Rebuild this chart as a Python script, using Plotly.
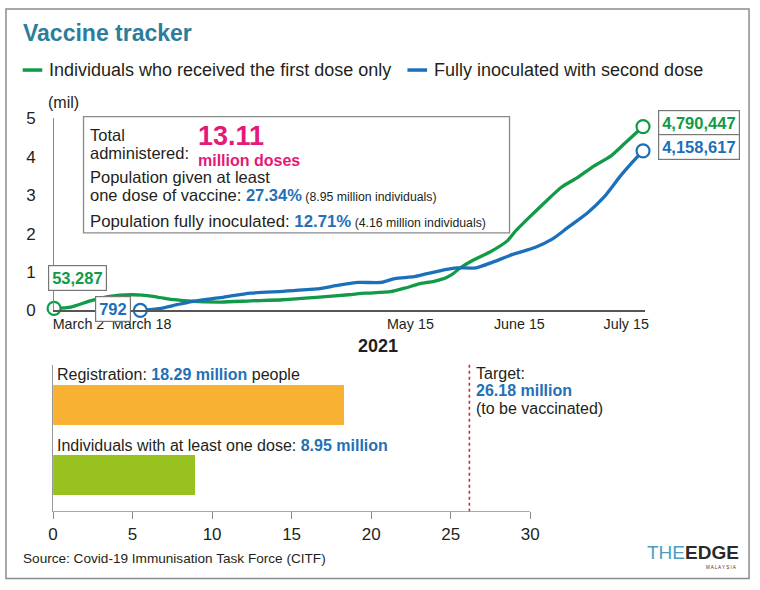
import plotly.graph_objects as go

W, H = 760, 590

# ---------------- data ----------------
# line chart: day index counted from March 2 (as placed on the chart), values in millions
green_days = [0, 4, 8.6, 12.8, 15.6, 18.7, 21, 24.5, 28.7, 32.7, 39.7, 46.7, 54.4, 62.3, 70, 74,
              80, 83.3, 87, 90.3, 93.3, 95, 96.4, 99.6, 103.4, 107.8, 109.7, 112.7, 116.7, 120.6,
              124.4, 128.3, 132.3, 136, 140]
green_vals = [0.053287, 0.09, 0.25, 0.36, 0.40, 0.41, 0.40, 0.35, 0.28, 0.24, 0.22, 0.25, 0.28, 0.34,
              0.41, 0.45, 0.49, 0.58, 0.70, 0.76, 0.86, 0.97, 1.10, 1.31, 1.51, 1.82, 2.07, 2.40,
              2.82, 3.21, 3.46, 3.76, 4.02, 4.39, 4.790447]

blue_days = [20.5, 25, 29.2, 32.7, 40.4, 46.7, 54.4, 62.3, 67.7, 72.3, 77.7, 81, 85.6, 88.7, 93.3,
             95.7, 100.3, 104.3, 109, 114.3, 118.3, 122, 126.7, 130.7, 134.6, 137.7, 140]
blue_vals = [0.000792, 0.05, 0.15, 0.23, 0.35, 0.45, 0.50, 0.56, 0.66, 0.73, 0.73, 0.83, 0.88, 0.96,
             1.07, 1.11, 1.11, 1.26, 1.46, 1.64, 1.85, 2.15, 2.53, 2.95, 3.50, 3.89, 4.158617]

green_name = "Individuals who received the first dose only"
blue_name = "Fully inoculated with second dose"

x_tick_pos = [5.8, 20.8, 84.7, 110.6, 136.0]
x_tick_text = ["March 2", "March 18", "May 15", "June 15", "July 15"]
y_tick_vals = [0, 1, 2, 3, 4, 5]

# bar chart (millions)
bar_names = ["Individuals with at least one dose", "Registration"]
bar_vals = [8.95, 18.29]
bar_colors = ["#98c21f", "#f8b133"]
target_val = 26.18
bar_ticks = [0, 5, 10, 15, 20, 25, 30]

total_doses = 13.11
pct_one_dose = 27.34
pct_full = 12.71
indiv_one_dose = 8.95
indiv_full = 4.16

GREEN = "#119a47"
BLUE = "#1c70ba"
NUMBLUE = "#2470b6"
PINK = "#e5197a"
FONT = "Liberation Sans, Arial, sans-serif"
TXT = "#231f20"


def px(x):
    return x / W


def py(y):
    return 1 - y / H


def label(text, x, y, size, color=TXT, xanchor="left", **kw):
    d = dict(text=text, x=px(x), y=py(y), xref="paper", yref="paper", xanchor=xanchor,
             yanchor="middle", showarrow=False, align="left",
             font=dict(family=FONT, size=size, color=color))
    d.update(kw)
    return d


def sp(text, size, color=None, bold=False):
    style = f"font-size:{size}px" + (f";color:{color}" if color else "")
    inner = f"<b>{text}</b>" if bold else text
    return f"<span style='{style}'>{inner}</span>"


fig = go.Figure()

fig.add_trace(go.Scatter(x=green_days, y=green_vals, mode="lines", name=green_name,
                         line=dict(color=GREEN, width=3.3, shape="spline", smoothing=0.6),
                         showlegend=False, cliponaxis=False, xaxis="x", yaxis="y"))
fig.add_trace(go.Scatter(x=blue_days, y=blue_vals, mode="lines", name=blue_name,
                         line=dict(color=BLUE, width=3.3, shape="spline", smoothing=0.6),
                         showlegend=False, cliponaxis=False, xaxis="x", yaxis="y"))
# open circle markers at start / end
fig.add_trace(go.Scatter(x=[green_days[0], green_days[-1]], y=[green_vals[0], green_vals[-1]],
                         mode="markers", showlegend=False, cliponaxis=False, hoverinfo="skip",
                         marker=dict(size=13, color="white", line=dict(color=GREEN, width=2.2))))
fig.add_trace(go.Scatter(x=[blue_days[0], blue_days[-1]], y=[blue_vals[0], blue_vals[-1]],
                         mode="markers", showlegend=False, cliponaxis=False, hoverinfo="skip",
                         marker=dict(size=13, color="white", line=dict(color=BLUE, width=2.2))))

# bars
fig.add_trace(go.Bar(x=bar_vals, y=[0, 1], orientation="h", marker=dict(color=bar_colors, line=dict(width=0)),
                     width=0.57, showlegend=False, xaxis="x2", yaxis="y2", hoverinfo="x"))

ann = []
shapes = []

# title
ann.append(label("<b>Vaccine tracker</b>", 16, 26, 23, "#2b7d9b"))

# manual legend
shapes.append(dict(type="line", xref="paper", yref="paper", x0=px(18), x1=px(38), y0=py(64), y1=py(64),
                   line=dict(color=GREEN, width=3.5)))
ann.append(label(green_name, 43, 64, 18))
shapes.append(dict(type="line", xref="paper", yref="paper", x0=px(410), x1=px(430), y0=py(64), y1=py(64),
                   line=dict(color=BLUE, width=3.5)))
ann.append(label(blue_name, 435, 64, 18))

# (mil) and 2021
ann.append(label("(mil)", 42, 97, 16))
ann.append(label("<b>2021</b>", 380, 349, 18, xanchor="center"))

# info box
shapes.append(dict(type="rect", xref="paper", yref="paper", x0=px(80), x1=px(514), y0=py(112), y1=py(232),
                   line=dict(color="#8a8a8a", width=1.3), fillcolor="rgba(255,255,255,0)"))
ann.append(label(sp("Total", 16.5) + "<br>" + sp("administered:", 16.5), 85, 140, 13.8))
ann.append(label(sp(f"{total_doses:.2f}", 27, bold=True) + "<br>" + sp("million doses", 16, bold=True),
                 195, 141, 15.8, PINK))
ann.append(label(sp("Population given at least", 16.5) + "<br>" +
                 sp("one dose of vaccine: ", 16.5) + sp(f"{pct_one_dose:.2f}%", 16.5, NUMBLUE, True) +
                 sp(f" ({indiv_one_dose:.2f} million individuals)", 12.3), 85, 184, 14.1))
ann.append(label(("Population fully inoculated: "
                  f"<span style='color:{NUMBLUE}'><b>{pct_full:.2f}%</b></span>"
                  f"<span style='font-size:12.3px'> ({indiv_full:.2f} million individuals)</span>"),
                 85, 220, 16.8))


# value labels on line ends
def boxed(text, x, y, color, xanchor, xshift, yshift):
    return dict(text=f"<b>{text}</b>", x=x, y=y, xref="x", yref="y", xanchor=xanchor, yanchor="middle",
                xshift=xshift, yshift=yshift, showarrow=False, bgcolor="white", bordercolor="#777",
                borderwidth=1.2, borderpad=3, font=dict(family=FONT, size=16.5, color=color))


ann.append(boxed(f"{round(green_vals[0]*1e6):,}", green_days[0], green_vals[0], GREEN, "left", -6, 30))
ann.append(boxed(f"{round(blue_vals[0]*1e6):,}", blue_days[0], blue_vals[0], BLUE, "right", -9, 1))
ann.append(boxed(f"{round(green_vals[-1]*1e6):,}", green_days[-1], green_vals[-1], GREEN, "left", 15, 4))
ann.append(boxed(f"{round(blue_vals[-1]*1e6):,}", blue_days[-1], blue_vals[-1], BLUE, "left", 15, 4))

# bar labels
ann.append(label(f"Registration: <span style='color:{NUMBLUE}'><b>{bar_vals[1]:.2f} million</b></span> people",
                 51, 378, 16))
ann.append(label(f"{bar_names[0]}: <span style='color:{NUMBLUE}'><b>{bar_vals[0]:.2f} million</b></span>",
                 51, 451, 16))
# target
shapes.append(dict(type="line", xref="x2", yref="paper", x0=target_val, x1=target_val, y0=py(368), y1=py(519),
                   line=dict(color="#d7262b", width=1.6, dash="dot")))
ann.append(label(sp("Target:", 16) + "<br>" + sp(f"{target_val:.2f} million", 16, NUMBLUE, True) + "<br>" +
                 sp("(to be vaccinated)", 16), 478, 395, 13.4))

# source
ann.append(label("Source: Covid-19 Immunisation Task Force (CITF)", 16, 568, 13.6))
# logo
ann.append(label("<span style='color:#4d9dbf'>THE</span><b>EDGE</b>", 750, 562, 19, "#2a2a2a", xanchor="right"))
ann.append(dict(text="M A L A Y S I A", x=px(747), y=py(572), xref="paper", yref="paper", xanchor="right",
                yanchor="top", showarrow=False, font=dict(family=FONT, size=4.5, color="#333")))

# outer frame
shapes.append(dict(type="rect", xref="paper", yref="paper", x0=px(1), x1=px(758), y0=py(588.5), y1=py(1),
                   line=dict(color="#8c8c8c", width=1.5), layer="above"))

px_per_day = (650 - 50) / 140.0
x_max = (652 - 50) / px_per_day
px_per_mil = (312 - 114) / 5.0
y_max = (312 - 113) / px_per_mil

fig.update_layout(
    width=W, height=H, margin=dict(l=0, r=0, t=0, b=0), paper_bgcolor="white", plot_bgcolor="white",
    font=dict(family=FONT, color=TXT),
    xaxis=dict(domain=[px(50), px(652)], range=[0, x_max], tickmode="array", tickvals=x_tick_pos,
               ticktext=x_tick_text, showgrid=False, zeroline=False, showline=True, linecolor="#555",
               linewidth=1.5, ticks="", tickfont=dict(size=14.3, color=TXT), anchor="y", fixedrange=True),
    yaxis=dict(domain=[py(312), py(113)], range=[0, y_max], tickmode="array", tickvals=y_tick_vals,
               showgrid=False, zeroline=False, showline=True, linecolor="#888", linewidth=1,
               ticks="", ticklabelstandoff=14, tickfont=dict(size=17, color=TXT), anchor="x", fixedrange=True),
    xaxis2=dict(domain=[px(49), px(535)], range=[0, 30], tickmode="array", tickvals=bar_ticks,
                showgrid=False, zeroline=False, showline=True, linecolor="#aaa", linewidth=1.3,
                ticks="outside", ticklen=7, tickcolor="#888", tickwidth=1,
                tickfont=dict(size=17, color=TXT), anchor="y2", fixedrange=True),
    yaxis2=dict(domain=[py(519), py(368)], range=[-0.521, 1.576], showticklabels=False, ticks="",
                showgrid=False, zeroline=False, showline=True, linecolor="#999", linewidth=1,
                anchor="x2", fixedrange=True),
    annotations=ann, shapes=shapes, bargap=0,
)

fig.write_html("out.html", config={"displayModeBar": False},
               post_script="document.body.style.margin='0';")
